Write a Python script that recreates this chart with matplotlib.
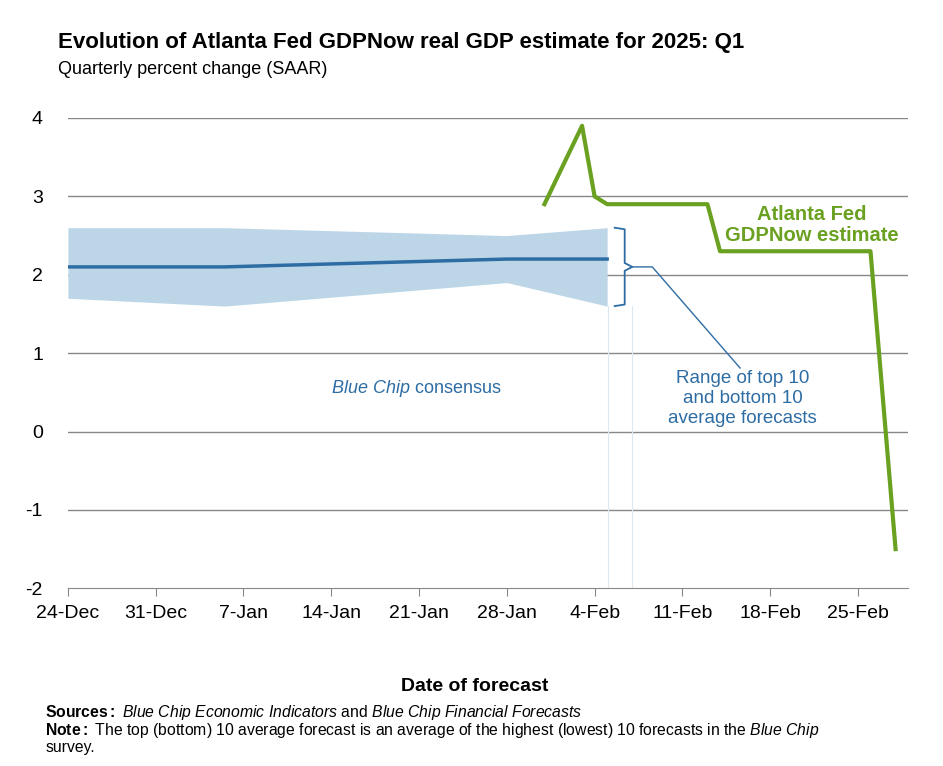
import matplotlib.pyplot as plt

plt.rcParams['font.family'] = ['Liberation Sans', 'DejaVu Sans']
plt.rcParams['mathtext.fontset'] = 'custom'
plt.rcParams['mathtext.rm'] = 'Liberation Sans'
plt.rcParams['mathtext.it'] = 'Liberation Sans:italic'
plt.rcParams['mathtext.bf'] = 'Liberation Sans:bold'

tick_labels = ['24-Dec', '31-Dec', '7-Jan', '14-Jan', '21-Jan', '28-Jan', '4-Feb', '11-Feb', '18-Feb', '25-Feb']
# days since 24-Dec
gdp_days = [38, 41, 42, 43, 51, 52, 64, 66]
gdp_vals = [2.9, 3.9, 3.0, 2.9, 2.9, 2.3, 2.3, -1.5]
bc_days = [0, 12.5, 35, 43]
bc_mid = [2.1, 2.1, 2.2, 2.2]
bc_hi = [2.6, 2.6, 2.5, 2.6]
bc_lo = [1.7, 1.6, 1.9, 1.6]

GREEN = '#6aa121'
BLUE = '#2e6da4'
BAND = '#bcd6e8'

fig = plt.figure(figsize=(9.43, 7.66), dpi=100)
ax = fig.add_axes([0.072, 0.232, 0.891, 0.614])
ax.set_xlim(0, 67)
ax.set_ylim(-2, 4)

for y in range(-1, 5):
    ax.axhline(y, color='#888888', lw=1, zorder=0)
ax.fill_between(bc_days, bc_lo, bc_hi, color=BAND, lw=0, zorder=1)
ax.plot(bc_days, bc_mid, color=BLUE, lw=2.5, zorder=2)
ax.plot(gdp_days, gdp_vals, color=GREEN, lw=3, zorder=3, clip_on=False)

# faint vertical lines
for d in [43.1, 45.0]:
    ax.plot([d, d], [-2, 1.6], color='#dde8f0', lw=0.8, zorder=0)

# brace
bx = 43.6
ax.plot([bx, bx + 0.8, bx + 0.8, bx + 1.4, bx + 0.8, bx + 0.8, bx],
        [2.6, 2.58, 2.15, 2.1, 2.05, 1.62, 1.6], color=BLUE, lw=1.3)
ax.plot([bx + 1.4, bx + 3.0, bx + 10.0], [2.1, 2.1, 0.81], color=BLUE, lw=1)
ax.text(53.8, 0.42, 'Range of top 10\nand bottom 10\naverage forecasts', color=BLUE,
        ha='center', va='center', fontsize=13.5, linespacing=1.2)
ax.text(27.8, 0.55, r'$\it{Blue\ Chip}$ consensus', color=BLUE, ha='center', va='center', fontsize=13)
ax.text(59.3, 2.63, 'Atlanta Fed\nGDPNow estimate', color=GREEN, ha='center', va='center',
        fontsize=14.5, fontweight='bold', linespacing=1.15)

ax.set_xticks([7 * i for i in range(len(tick_labels))])
ax.set_xticklabels(tick_labels, fontsize=14)
ax.set_yticks(range(-2, 5))
ax.set_yticklabels([str(v) for v in range(-2, 5)], fontsize=14)
for s in ['top', 'right', 'left']:
    ax.spines[s].set_visible(False)
ax.spines['bottom'].set_color('#888888')
ax.tick_params(axis='y', length=0, pad=18)
ax.tick_params(axis='x', color='#888888', length=6, pad=6)

fig.text(0.062, 0.937, 'Evolution of Atlanta Fed GDPNow real GDP estimate for 2025: Q1',
         fontsize=16, fontweight='bold', ha='left')
fig.text(0.062, 0.904, 'Quarterly percent change (SAAR)', fontsize=13, ha='left')
fig.text(0.503, 0.098, 'Date of forecast', fontsize=14, fontweight='bold', ha='center')
fig.text(0.048, 0.064, r'$\bf{Sources{:}}$ $\it{Blue\ Chip\ Economic\ Indicators}$ and $\it{Blue\ Chip\ Financial\ Forecasts}$',
         fontsize=11.3, ha='left')
fig.text(0.048, 0.041, r'$\bf{Note{:}}$ The top (bottom) 10 average forecast is an average of the highest (lowest) 10 forecasts in the $\it{Blue\ Chip}$',
         fontsize=11.3, ha='left')
fig.text(0.048, 0.018, 'survey.', fontsize=11.3, ha='left')

fig.savefig('out.png', dpi=100)
